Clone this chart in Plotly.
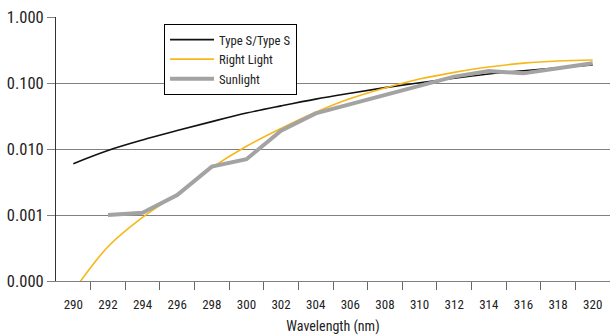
import plotly.graph_objects as go

wavelength = [290, 292, 294, 296, 298, 300, 302, 304, 306, 308, 310, 312, 314, 316, 318, 320]
type_s = [0.0060, 0.0095, 0.0137, 0.019, 0.026, 0.035, 0.045, 0.057, 0.070, 0.085,
          0.101, 0.118, 0.137, 0.153, 0.170, 0.187]
right_light = [0.00007, 0.00033, 0.00092, 0.0021, 0.0052, 0.0110, 0.0205, 0.036, 0.058,
               0.084, 0.115, 0.145, 0.175, 0.200, 0.216, 0.223]
sun_x = [292, 294, 296, 298, 300, 302, 304, 306, 308, 310, 312, 314, 316, 318, 320]
sunlight = [0.0010, 0.00108, 0.0020, 0.0054, 0.0070, 0.0189, 0.0347, 0.048, 0.066,
            0.090, 0.125, 0.152, 0.140, 0.167, 0.199]

y_tickvals = [0.0001, 0.001, 0.01, 0.1, 1]
y_ticktext = ["0.000", "0.001", "0.010", "0.100", "1.000"]
x_tickvals = list(range(290, 321, 2))
x_minor = list(range(291, 320, 2))

FONT = "Liberation Sans Narrow, Roboto Condensed, Arial Narrow, Liberation Sans, sans-serif"

fig = go.Figure()
fig.add_trace(go.Scatter(x=wavelength, y=type_s, mode="lines", name="Type S/Type S",
                         line=dict(color="#111111", width=1.6, shape="spline")))
fig.add_trace(go.Scatter(x=wavelength, y=right_light, mode="lines", name="Right Light",
                         line=dict(color="#F7B718", width=1.6, shape="spline")))
fig.add_trace(go.Scatter(x=sun_x, y=sunlight, mode="lines", name="Sunlight",
                         line=dict(color="#A3A3A3", width=4)))

fig.update_layout(
    width=610, height=335,
    margin=dict(l=56, r=0, t=17, b=54, autoexpand=False),
    paper_bgcolor="white", plot_bgcolor="white",
    font=dict(family=FONT, color="#222222"),
    showlegend=True,
    legend=dict(x=0.195, y=0.974, xanchor="left", yanchor="top",
                bordercolor="#000000", borderwidth=1, bgcolor="white",
                font=dict(size=12.7, family=FONT), tracegroupgap=0, itemwidth=44),
    xaxis=dict(range=[289, 321], tickmode="array", tickvals=x_tickvals,
               ticks="outside", ticklen=8, tickcolor="rgba(0,0,0,0)",
               minor=dict(tickmode="array", tickvals=x_minor, ticks="outside",
                          ticklen=8, tickcolor="#666666", tickwidth=1, showgrid=False),
               showgrid=False, showline=True, linecolor="#808080", linewidth=1,
               tickfont=dict(size=13, family=FONT), ticklabelstandoff=3,
               title=dict(text="Wavelength (nm)", font=dict(size=14, family=FONT), standoff=13),
               zeroline=False),
    yaxis=dict(type="log", range=[-4, 0], tickmode="array", tickvals=y_tickvals,
               ticktext=y_ticktext, ticks="outside", ticklen=8, tickcolor="#808080",
               showgrid=True, gridcolor="#808080", gridwidth=1,
               showline=True, linecolor="#333333", linewidth=1,
               tickfont=dict(size=16.5, family=FONT), zeroline=False),
)

fig.write_html("out.html", config={"displayModeBar": False},
               post_script="document.body.style.margin='0';document.body.style.padding='0';")
